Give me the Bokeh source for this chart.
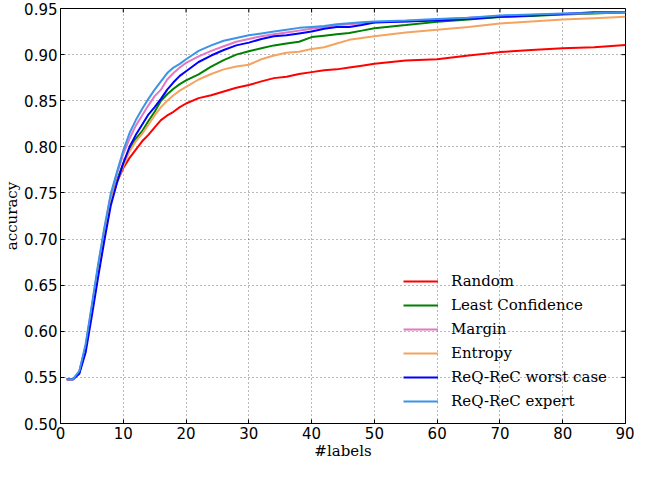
import math
from bokeh.plotting import figure
from bokeh.models import Legend, LegendItem, FixedTicker, CustomJSTickFormatter, Range1d
from bokeh.embed import file_html
from bokeh.resources import INLINE

labels_x = [1, 2, 3, 4, 5, 6, 7, 8, 9, 10, 11, 12, 13, 14, 15, 16, 17, 18, 19, 20,
            22, 24, 26, 28, 30, 32, 34, 36, 38, 40, 42, 44, 46, 48, 50, 55, 60, 65, 70, 75, 80, 85, 90]

random_acc = [.548, .548, .556, .582, .625, .668, .707, .741, .762, .777, .788, .797, .806, .813, .821, .829, .834, .838, .843, .847,
              .8528, .856, .860, .864, .867, .871, .8745, .876, .879, .881, .883, .884, .886, .888, .890, .8935, .895, .899, .9027, .905, .9068, .908, .9103]
least_conf = [.548, .548, .555, .581, .624, .667, .706, .741, .764, .782, .798, .809, .817, .828, .838, .850, .857, .863, .868, .872,
              .8786, .887, .894, .900, .9037, .907, .910, .912, .914, .919, .9205, .922, .9235, .926, .9286, .932, .9355, .938, .9407, .942, .9434, .9445, .9458]
margin_acc = [.548, .548, .556, .584, .627, .671, .711, .747, .771, .792, .809, .823, .834, .845, .855, .862, .873, .880, .886, .891,
              .898, .904, .909, .914, .917, .920, .922, .924, .926, .928, .930, .932, .933, .934, .935, .936, .938, .940, .9415, .943, .944, .945, .946]
entropy_acc = [.548, .548, .555, .581, .624, .667, .706, .740, .762, .779, .795, .806, .814, .824, .834, .843, .850, .856, .861, .865,
               .873, .879, .884, .887, .889, .895, .899, .902, .903, .906, .908, .912, .916, .918, .920, .924, .927, .930, .9338, .936, .938, .9395, .941]
worst_acc = [.548, .548, .554, .577, .617, .659, .699, .736, .761, .782, .800, .813, .824, .835, .843, .852, .862, .870, .877, .882,
             .892, .899, .905, .910, .913, .917, .920, .921, .923, .925, .928, .930, .930, .932, .9348, .936, .937, .939, .941, .9425, .944, .946, .946]
expert_acc = [.548, .548, .557, .586, .629, .673, .713, .749, .773, .796, .815, .829, .841, .852, .862, .871, .880, .886, .890, .895,
              .904, .910, .915, .918, .921, .923, .925, .927, .929, .930, .931, .933, .934, .935, .936, .937, .9386, .940, .9425, .9435, .9445, .945, .946]

series_names = ["Random", "Least Confidence", "Margin", "Entropy", "ReQ-ReC worst case", "ReQ-ReC expert"]
series_colors = ["#ff0000", "#008000", "#e377c2", "#f4a460", "#0000ff", "#3a94e8"]
series_values = [random_acc, least_conf, margin_acc, entropy_acc, worst_acc, expert_acc]

x_ticks = [0, 10, 20, 30, 40, 50, 60, 70, 80, 90]
y_ticks = [0.50, 0.55, 0.60, 0.65, 0.70, 0.75, 0.80, 0.85, 0.90, 0.95]
x_min, x_max = 0, 90
y_min, y_max = 0.50, 0.95

p = figure(width=634, height=462, output_backend="svg", toolbar_location=None,
           x_range=Range1d(x_min, x_max), y_range=Range1d(y_min, y_max),
           min_border_left=53, min_border_right=9, min_border_top=8, min_border_bottom=36)

p.outline_line_color = "black"
p.outline_line_width = 1
p.background_fill_color = "white"
p.border_fill_color = "white"

tick_font = "DejaVu Sans"
label_font = "DejaVu Serif"

p.xaxis.ticker = FixedTicker(ticks=x_ticks)
p.xaxis.axis_label = "#labels"
p.yaxis.ticker = FixedTicker(ticks=y_ticks)
p.yaxis.formatter = CustomJSTickFormatter(code="return tick.toFixed(2);")
p.yaxis.axis_label = "accuracy"

for ax in list(p.xaxis) + list(p.yaxis):
    ax.major_tick_in = 4
    ax.major_tick_out = 0
    ax.minor_tick_line_color = None
    ax.axis_line_color = "black"
    ax.major_tick_line_color = "black"
    ax.major_label_text_font = tick_font
    ax.major_label_text_font_size = "15px"
    ax.major_label_text_color = "black"
    ax.axis_label_text_font = label_font
    ax.axis_label_text_font_size = "15px"
    ax.axis_label_text_font_style = "normal"
    ax.axis_label_text_color = "black"
    ax.major_label_standoff = 3
    ax.axis_label_standoff = 0

# inward ticks on the top and right edges of the frame
p.ray(x=x_ticks, y=[y_max] * len(x_ticks), length=4, angle=-math.pi / 2,
      length_units="screen", line_color="black", line_width=1)
p.ray(x=[x_max] * len(y_ticks), y=y_ticks, length=4, angle=math.pi,
      length_units="screen", line_color="black", line_width=1)

p.xgrid.ticker = FixedTicker(ticks=x_ticks[1:-1])
p.ygrid.ticker = FixedTicker(ticks=y_ticks[1:-1])
for g in (p.xgrid, p.ygrid):
    g.grid_line_color = "black"
    g.grid_line_alpha = 0.55
    g.grid_line_width = 1
    g.grid_line_dash = "1 3"

items = []
for name, color, vals in zip(series_names, series_colors, series_values):
    r = p.line(labels_x, vals, line_color=color, line_width=2)
    items.append(LegendItem(label=name, renderers=[r]))

legend = Legend(items=items, location=(343, 10), border_line_color=None,
                background_fill_alpha=0, glyph_width=35, glyph_height=24,
                label_height=24, spacing=0, padding=0, margin=0, label_standoff=13,
                label_text_font=label_font, label_text_font_size="15px",
                label_text_color="black")
p.add_layout(legend, "center")

open("out.html", "w").write(file_html(p, INLINE))
